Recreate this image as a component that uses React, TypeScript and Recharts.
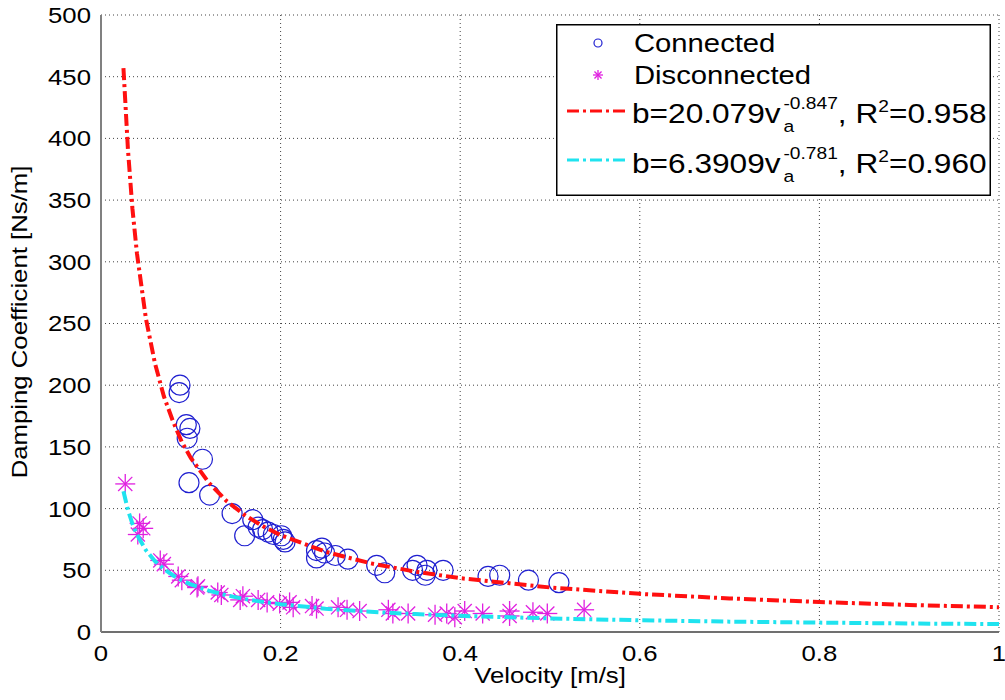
import React from 'react';
import { ScatterChart, Scatter, XAxis, YAxis, CartesianGrid, Legend } from 'recharts';

const connectedVelocity = [0.088, 0.087, 0.095, 0.099, 0.096, 0.113, 0.098, 0.121, 0.146, 0.169, 0.16, 0.175, 0.18, 0.186, 0.192, 0.201, 0.203, 0.205, 0.24, 0.246, 0.24, 0.249, 0.261, 0.275, 0.307, 0.316, 0.352, 0.347, 0.363, 0.361, 0.381, 0.431, 0.444, 0.476, 0.51];
const connectedDamping = [200, 194, 168, 165, 157, 140, 121, 111, 96, 91, 78, 85, 83, 81, 79, 78, 75, 73, 66, 68, 60, 64, 62, 59, 54, 48, 54, 50, 50, 46, 50, 45, 46, 42, 40];

const disconnectedVelocity = [0.027, 0.043, 0.047, 0.041, 0.066, 0.07, 0.086, 0.09, 0.108, 0.107, 0.13, 0.134, 0.158, 0.155, 0.175, 0.185, 0.199, 0.214, 0.21, 0.235, 0.24, 0.264, 0.274, 0.288, 0.32, 0.325, 0.342, 0.372, 0.385, 0.394, 0.405, 0.425, 0.455, 0.455, 0.481, 0.497, 0.538];
const disconnectedDamping = [120, 88, 84, 79, 58, 55, 45, 42, 37, 36, 32, 30, 29, 26, 26, 24, 23, 20, 24, 21, 19, 20, 18, 17, 18, 15, 15, 14, 15, 12, 17, 15, 17, 13, 16, 15, 18];

// fitted curves, values
const fitVelocity = [0.025, 0.03, 0.035, 0.04, 0.05, 0.06, 0.07, 0.08, 0.09, 0.1, 0.12, 0.14, 0.16, 0.18, 0.2, 0.25, 0.3, 0.35, 0.4, 0.5, 0.6, 0.7, 0.8, 0.9, 1.0];
const fitConnected = [457, 391, 343, 307, 254, 218, 191, 171, 154, 141, 121, 106, 94.8, 85.8, 78.5, 65.0, 55.7, 48.9, 43.6, 36.1, 30.9, 27.2, 24.3, 21.9, 20.1];
const fitDisconnected = [114, 98.9, 87.6, 78.9, 66.3, 57.5, 51.0, 46.0, 41.9, 38.6, 33.5, 29.7, 26.7, 24.4, 22.5, 18.9, 16.4, 14.5, 13.1, 11.0, 9.5, 8.4, 7.6, 6.9, 6.4];

const xTicks = [0, 0.2, 0.4, 0.6, 0.8, 1];
const yTicks = [0, 50, 100, 150, 200, 250, 300, 350, 400, 450, 500];

const toPoints = (xs: number[], ys: number[]) => xs.map((x, i) => ({ x, y: ys[i] }));

const FONT = 'Liberation Sans, Arial, sans-serif';
const STRETCH = 1.17;
const BLUE = '#1f1fd0';
const MAGENTA = '#e020e0';
const RED = '#ff1010';
const CYAN = '#1fe3ef';
const DASH = '12 4 3 4';

const Ring = ({ cx, cy, r = 10 }: any) => (
  <circle cx={cx} cy={cy} r={r} fill="none" stroke={BLUE} strokeWidth={1.2} />
);

const Star = ({ cx, cy, r = 10 }: any) => {
  const d = r * 0.707;
  return (
    <g stroke={MAGENTA} strokeWidth={1.3}>
      <line x1={cx - r} y1={cy} x2={cx + r} y2={cy} />
      <line x1={cx} y1={cy - r} x2={cx} y2={cy + r} />
      <line x1={cx - d} y1={cy - d} x2={cx + d} y2={cy + d} />
      <line x1={cx - d} y1={cy + d} x2={cx + d} y2={cy - d} />
    </g>
  );
};

const XTick = ({ x, y, payload }: any) => (
  <text transform={`translate(${x},${y}) scale(${STRETCH},1)`} textAnchor="middle" dy="0.72em"
    fontSize={22} fontFamily={FONT} fill="#000">
    {payload.value}
  </text>
);

const YTick = ({ x, y, payload }: any) => (
  <text transform={`translate(${x},${y}) scale(${STRETCH},1)`} textAnchor="end" dy="0.36em"
    fontSize={22} fontFamily={FONT} fill="#000">
    {payload.value}
  </text>
);

const FitLegend = () => (
  <svg width={435} height={172} style={{ display: 'block' }}>
    <rect x={0.75} y={0.75} width={433.5} height={170.5} fill="#fff" stroke="#000" strokeWidth={1.5} />
    <Ring cx={42} cy={19} r={4} />
    <text transform="translate(78,28) scale(1.17,1)" fontSize={25} fontFamily={FONT}>Connected</text>
    <Star cx={42} cy={51} r={5} />
    <text transform="translate(78,60) scale(1.17,1)" fontSize={25} fontFamily={FONT}>Disconnected</text>

    <line x1={11} y1={87} x2={71} y2={87} stroke={RED} strokeWidth={3} strokeDasharray={DASH} />
    <text transform="translate(76,99) scale(1.13,1)" fontSize={28} fontFamily={FONT}>
      b=20.079v
      <tspan x={134} dy={9} fontSize={17}>a</tspan>
      <tspan x={134} dy={-23} fontSize={17}>-0.847</tspan>
      <tspan dy={14}>, R</tspan>
      <tspan dy={-11} fontSize={17}>2</tspan>
      <tspan dy={11}>=0.958</tspan>
    </text>

    <line x1={11} y1={136} x2={71} y2={136} stroke={CYAN} strokeWidth={3} strokeDasharray={DASH} />
    <text transform="translate(76,149) scale(1.13,1)" fontSize={28} fontFamily={FONT}>
      b=6.3909v
      <tspan x={134} dy={9} fontSize={17}>a</tspan>
      <tspan x={134} dy={-23} fontSize={17}>-0.781</tspan>
      <tspan dy={14}>, R</tspan>
      <tspan dy={-11} fontSize={17}>2</tspan>
      <tspan dy={11}>=0.960</tspan>
    </text>
  </svg>
);

export default function App() {
  return (
    <div style={{ position: 'absolute', left: 0, top: 0, width: 1005, height: 700, background: '#fff' }}>
      <ScatterChart width={1005} height={700} margin={{ top: 15, right: 6, left: 0, bottom: 0 }}>
        <CartesianGrid stroke="#444" strokeDasharray="1 3" horizontal vertical />
        <XAxis type="number" dataKey="x" domain={[0, 1]} ticks={xTicks} height={68}
          axisLine={{ stroke: '#707070', strokeWidth: 2 }} tickLine={false} tickSize={0} tickMargin={13}
          tick={<XTick />} allowDataOverflow
          label={{
            content: () => (
              <text transform={`translate(550,683) scale(${STRETCH},1)`} textAnchor="middle"
                fontSize={22} fontFamily={FONT} fill="#000">Velocity [m/s]</text>
            ),
          }} />
        <YAxis type="number" dataKey="y" domain={[0, 500]} ticks={yTicks} width={101}
          axisLine={{ stroke: '#808080', strokeWidth: 2 }} tickLine={false} tickSize={0} tickMargin={10}
          tick={<YTick />} allowDataOverflow
          label={{
            content: () => (
              <text transform={`translate(27,322) rotate(-90) scale(${STRETCH},1)`} textAnchor="middle"
                fontSize={22} fontFamily={FONT} fill="#000">Damping Coefficient [Ns/m]</text>
            ),
          }} />
        <Legend verticalAlign="middle" layout="horizontal" content={() => <FitLegend />}
          wrapperStyle={{ left: 556, top: 24, width: 435, height: 172 }} />
        <Scatter name="Connected" data={toPoints(connectedVelocity, connectedDamping)}
          shape={(p: any) => <Ring cx={p.cx} cy={p.cy} />} isAnimationActive={false} />
        <Scatter name="Disconnected" data={toPoints(disconnectedVelocity, disconnectedDamping)}
          shape={(p: any) => <Star cx={p.cx} cy={p.cy} />} isAnimationActive={false} />
        <Scatter name="fit connected" data={toPoints(fitVelocity, fitConnected)} lineType="joint"
          line={{ stroke: RED, strokeWidth: 4, strokeDasharray: DASH }} shape={() => <g />}
          isAnimationActive={false} />
        <Scatter name="fit disconnected" data={toPoints(fitVelocity, fitDisconnected)} lineType="joint"
          line={{ stroke: CYAN, strokeWidth: 4, strokeDasharray: DASH }} shape={() => <g />}
          isAnimationActive={false} />
      </ScatterChart>
    </div>
  );
}
